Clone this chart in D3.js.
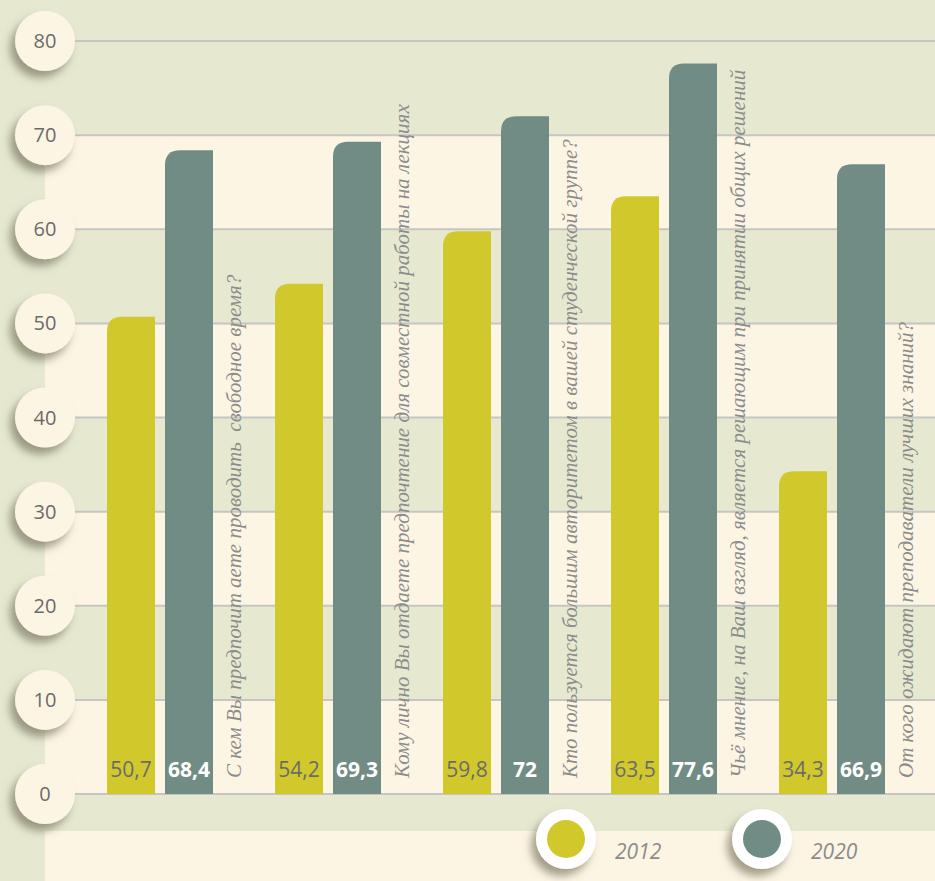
<!DOCTYPE html>
<html>
<head>
<meta charset="utf-8">
<script src="https://cdn.jsdelivr.net/npm/d3@7"></script>
<style>
  html, body { margin: 0; padding: 0; background: #e6e9d0; }
  svg { display: block; }
</style>
</head>
<body>
<svg id="chart" width="935" height="881"></svg>
<script>
const categories = [
  "С кем Вы предпочит аете проводить  свободное время?",
  "Кому лично Вы отдаете предпочтение для совместной работы на лекциях",
  "Кто пользуется большим авторитетом в вашей студенческой группе?",
  "Чьё мнение, на Ваш взгляд, является решающим при принятии общих решений",
  "От кого ожидают преподаватели лучших знаний?"
];
const values2012 = [50.7, 54.2, 59.8, 63.5, 34.3];
const values2020 = [68.4, 69.3, 72, 77.6, 66.9];
const years = ["2012", "2020"];
const yTicks = [0, 10, 20, 30, 40, 50, 60, 70, 80];

const W = 935, H = 881;
const green = "#e6e9d0", cream = "#fdf5e4";
const colors = ["#d1c92b", "#718c85"];

const svg = d3.select("#chart");

const defs = svg.append("defs");
const f = defs.append("filter").attr("id", "shadow")
  .attr("x", "-50%").attr("y", "-50%").attr("width", "200%").attr("height", "200%");
f.append("feDropShadow")
  .attr("dx", -5).attr("dy", 7).attr("stdDeviation", 4)
  .attr("flood-color", "#68634c").attr("flood-opacity", 0.6);

const y = d3.scaleLinear().domain([0, 80]).range([794, 41]);
const x = d3.scaleBand().domain(categories).range([107, 107 + 168 * 5]);
const barW = 48, barGap = 10, r = 15;

// background
svg.append("rect").attr("width", W).attr("height", H).attr("fill", green);
const bands = d3.range(0, 80, 10).filter(v => v % 20 === 0);
svg.selectAll(".band").data(bands).enter().append("rect")
  .attr("x", 45).attr("width", W - 45)
  .attr("y", d => y(d + 10)).attr("height", d => y(d) - y(d + 10))
  .attr("fill", cream);
svg.append("rect").attr("x", 45).attr("y", 831).attr("width", W - 45).attr("height", H - 831)
  .attr("fill", cream);

// grid
svg.selectAll(".grid").data(yTicks).enter().append("line")
  .attr("x1", 75).attr("x2", W)
  .attr("y1", d => y(d)).attr("y2", d => y(d))
  .attr("stroke", "#c6c5c3").attr("stroke-width", 2);

// bars with rounded top-left corner
function barPath(x0, v) {
  const top = y(v), bot = y(0);
  return `M${x0},${bot}V${top + r}Q${x0},${top} ${x0 + r},${top}H${x0 + barW}V${bot}Z`;
}
const groups = svg.selectAll(".g").data(categories).enter().append("g");
[values2012, values2020].forEach((vals, s) => {
  groups.append("path")
    .attr("d", (d, i) => barPath(x(d) + s * (barW + barGap), vals[i]))
    .attr("fill", colors[s]);
  groups.append("text")
    .attr("x", (d, i) => x(d) + s * (barW + barGap) + barW / 2)
    .attr("y", 777)
    .attr("text-anchor", "middle")
    .attr("font-family", "'Open Sans', sans-serif")
    .attr("font-size", 21)
    .attr("font-weight", s ? 700 : 400)
    .attr("fill", s ? "#ffffff" : "#6b6b6b")
    .text((d, i) => String(vals[i]).replace(".", ","));
});

// category labels
groups.append("text")
  .attr("transform", d => `translate(${x(d) + 2 * barW + barGap + 28},778) rotate(-90)`)
  .attr("font-family", "'Liberation Serif', 'DejaVu Serif', serif")
  .attr("font-style", "italic")
  .attr("font-size", 21)
  .attr("fill", "#8c8c8c")
  .style("white-space", "pre")
  .text(d => d);

// axis circles
const ax = svg.selectAll(".tick").data(yTicks).enter().append("g")
  .attr("transform", d => `translate(45,${y(d)})`);
ax.append("circle").attr("r", 30).attr("fill", cream).attr("filter", "url(#shadow)");
ax.append("text")
  .attr("text-anchor", "middle").attr("dy", "0.35em")
  .attr("font-family", "'Open Sans', sans-serif").attr("font-size", 20)
  .attr("fill", "#6b6b6b")
  .text(d => d);

// legend
const lx = d3.scalePoint().domain(years).range([566, 762]);
const lg = svg.selectAll(".leg").data(years).enter().append("g")
  .attr("transform", d => `translate(${lx(d)},839)`);
lg.append("circle").attr("r", 30).attr("fill", "#ffffff").attr("filter", "url(#shadow)");
lg.append("circle").attr("r", 19).attr("fill", (d, i) => colors[i]);
lg.append("text")
  .attr("x", 49).attr("y", 20)
  .attr("font-family", "'Open Sans', sans-serif").attr("font-style", "italic")
  .attr("font-size", 21).attr("fill", "#8c8c8c")
  .text(d => d);
</script>
</body>
</html>
